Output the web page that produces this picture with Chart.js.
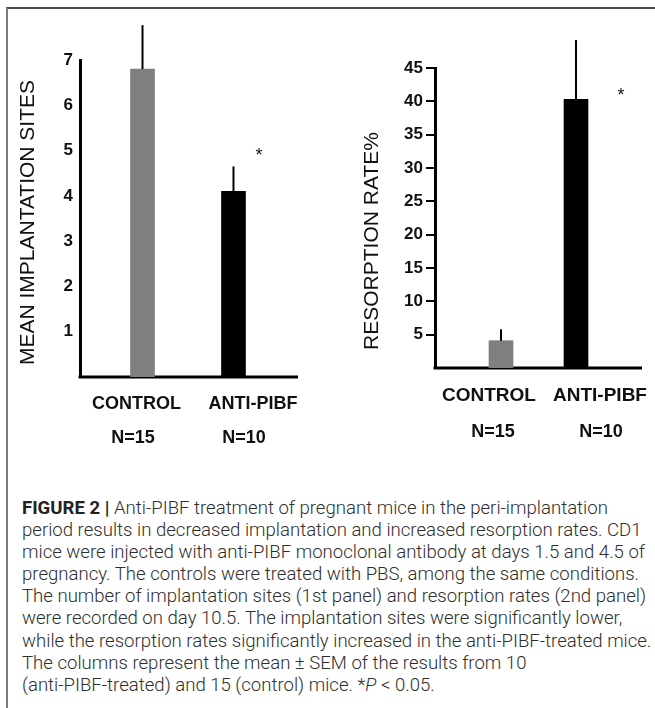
<!DOCTYPE html>
<html>
<head>
<meta charset="utf-8">
<script src="https://cdn.jsdelivr.net/npm/chart.js@4/dist/chart.umd.min.js"></script>
<style>
  html, body { margin: 0; padding: 0; background: #fff; }
  body { width: 655px; height: 708px; position: relative; overflow: hidden; }
  #frame { position: absolute; left: 6px; top: 7px; width: 700px; height: 760px;
           border-top: 2px solid #484848; border-left: 2px solid #7c7c7c; box-sizing: border-box; }
  canvas { position: absolute; top: 0; }
  #c1 { left: 0; }
  #c2 { left: 330px; }
  #caption { position: absolute; left: 22px; top: 497px; font-family: Roboto, "Liberation Sans", sans-serif;
             font-weight: 300; font-size: 18.5px; line-height: 22.1px; color: #2e2e2e;
             white-space: nowrap; transform-origin: 0 0; }
  #caption b { font-weight: 700; color: #222; }
  #caption div span { display: inline-block; }
</style>
</head>
<body>
<div id="frame"></div>
<canvas id="c1" width="330" height="460"></canvas>
<canvas id="c2" width="325" height="460"></canvas>
<div id="caption">
  <div><span><b>FIGURE 2 |</b> Anti-PIBF treatment of pregnant mice in the peri-implantation</span></div>
  <div><span>period results in decreased implantation and increased resorption rates. CD1</span></div>
  <div><span id="longest">mice were injected with anti-PIBF monoclonal antibody at days 1.5 and 4.5 of</span></div>
  <div><span>pregnancy. The controls were treated with PBS, among the same conditions.</span></div>
  <div><span>The number of implantation sites (1st panel) and resorption rates (2nd panel)</span></div>
  <div><span>were recorded on day 10.5. The implantation sites were significantly lower,</span></div>
  <div><span>while the resorption rates significantly increased in the anti-PIBF-treated mice.</span></div>
  <div><span>The columns represent the mean ± SEM of the results from 10</span></div>
  <div><span>(anti-PIBF-treated) and 15 (control) mice. *<i>P</i> &lt; 0.05.</span></div>
</div>
<script>
// Groups and sample sizes
const groups = ['CONTROL', 'ANTI-PIBF'];
const groupSizes = ['N=15', 'N=10'];

// Panel 1: mean implantation sites (mean and SEM)
const implantMean = [6.8, 4.1];
const implantSem = [0.97, 0.55];
const implantTicks = [1, 2, 3, 4, 5, 6, 7];

// Panel 2: resorption rate % (mean and SEM)
const resorptionMean = [4.1, 40.3];
const resorptionSem = [1.7, 8.9];
const resorptionTicks = [5, 10, 15, 20, 25, 30, 35, 40, 45];

const barColors = ['#7f7f7f', '#000000'];
const FONT = '"Liberation Sans", Arial, Helvetica, sans-serif';

// Baseline along the bottom of the plot area
const baseline = {
  id: 'baseline',
  beforeDatasetsDraw(chart) {
    const { ctx, chartArea: a, scales: { y } } = chart;
    const py = y.getPixelForValue(0);
    ctx.save();
    ctx.strokeStyle = '#000';
    ctx.lineWidth = 3;
    ctx.beginPath();
    ctx.moveTo(a.left - 1.5, py);
    ctx.lineTo(a.right, py);
    ctx.stroke();
    ctx.restore();
  }
};

// Upward-only SEM whiskers
const semWhiskers = {
  id: 'semWhiskers',
  afterDatasetsDraw(chart, args, opts) {
    const { ctx, scales: { x, y } } = chart;
    const means = chart.data.datasets[0].data;
    ctx.save();
    ctx.strokeStyle = '#000';
    ctx.lineWidth = 2;
    means.forEach((pt, i) => {
      const px = x.getPixelForValue(pt.x);
      ctx.beginPath();
      ctx.moveTo(px, y.getPixelForValue(pt.y));
      ctx.lineTo(px, y.getPixelForValue(pt.y + opts.sem[i]));
      ctx.stroke();
    });
    ctx.restore();
  }
};

// Axis title, group labels, sample sizes and significance mark
const panelText = {
  id: 'panelText',
  afterDraw(chart, args, o) {
    const { ctx, chartArea: a, scales: { x, y } } = chart;
    ctx.save();
    ctx.fillStyle = '#111';
    ctx.textAlign = 'center';

    ctx.save();
    ctx.font = o.titleFont;
    ctx.textBaseline = 'middle';
    ctx.translate(a.left + o.titleDx, (a.top + a.bottom) / 2 + o.titleDy);
    ctx.rotate(-Math.PI / 2);
    ctx.fillText(o.title, 0, 0);
    ctx.restore();

    ctx.textBaseline = 'middle';
    ctx.font = o.catFont;
    groups.forEach((g, i) => {
      ctx.fillText(g, x.getPixelForValue(i) + o.catDx[i], a.bottom + o.catDy);
    });
    ctx.font = o.nFont;
    groupSizes.forEach((n, i) => {
      ctx.fillText(n, x.getPixelForValue(i) + o.nDx[i], a.bottom + o.nDy);
    });

    ctx.font = '18px ' + FONT;
    ctx.textBaseline = 'alphabetic';
    ctx.fillText('*', x.getPixelForValue(o.star.index) + o.star.dx, y.getPixelForValue(o.star.at) + 10);
    ctx.restore();
  }
};

function makePanel(canvasId, means, sems, ticks, yMax, cfg) {
  return new Chart(document.getElementById(canvasId), {
    type: 'bar',
    data: {
      datasets: [{
        data: means.map((m, i) => ({ x: i, y: m })),
        backgroundColor: barColors,
        barThickness: 24,
        borderWidth: 0
      }]
    },
    options: {
      responsive: false,
      animation: false,
      events: [],
      layout: { padding: cfg.padding },
      plugins: {
        legend: { display: false },
        tooltip: { enabled: false },
        semWhiskers: { sem: sems },
        panelText: cfg.text
      },
      scales: {
        x: {
          type: 'linear',
          offset: false,
          min: cfg.xMin,
          max: cfg.xMax,
          grid: { display: false, drawTicks: false, offset: false },
          ticks: { display: false },
          border: { display: false },
          afterFit: s => { s.height = 0; }
        },
        y: {
          min: 0,
          max: yMax,
          afterBuildTicks: s => { s.ticks = ticks.map(v => ({ value: v })); },
          grid: cfg.yGrid,
          border: { display: true, color: '#000', width: 3 },
          ticks: {
            color: '#111',
            padding: cfg.tickPadding,
            font: { family: FONT, size: 17, weight: 'bold' }
          },
          afterFit: s => { s.width = cfg.axisWidth; }
        }
      }
    },
    plugins: [baseline, semWhiskers, panelText]
  });
}

makePanel('c1', implantMean, implantSem, implantTicks, 7, {
  padding: { left: 10, top: 60, right: 32, bottom: 83 },
  axisWidth: 70,
  xMin: -0.687, xMax: 1.709,
  tickPadding: 7,
  yGrid: { display: false, drawTicks: false },
  text: {
    title: 'MEAN IMPLANTATION SITES', titleFont: '21px ' + FONT, titleDx: -52, titleDy: 4,
    catFont: 'bold 18px ' + FONT, catDx: [-6, 19.5], catDy: 27,
    nFont: 'bold 18px ' + FONT, nDx: [-9.5, 10.5], nDy: 61,
    star: { index: 1, dx: 25.5, at: 5.0 }
  }
});

makePanel('c2', resorptionMean, resorptionSem, resorptionTicks, 45, {
  padding: { left: 10, top: 68, right: 13, bottom: 92 },
  axisWidth: 95,
  xMin: -0.88, xMax: 1.88,
  tickPadding: 3,
  yGrid: { drawOnChartArea: false, drawTicks: true, tickLength: 9, color: '#000', lineWidth: 2 },
  text: {
    title: 'RESORPTION RATE%', titleFont: '21px ' + FONT, titleDx: -63, titleDy: 23,
    catFont: 'bold 19px ' + FONT, catDx: [-12, 24], catDy: 28,
    nFont: 'bold 18px ' + FONT, nDx: [-8, 25], nDy: 64,
    star: { index: 1, dx: 45, at: 41.6 }
  }
});

// Fit the caption block to the text column width
const cap = document.getElementById('caption');
const w = document.getElementById('longest').getBoundingClientRect().width;
cap.style.transform = 'scaleX(' + (623 / w) + ')';
</script>
</body>
</html>
